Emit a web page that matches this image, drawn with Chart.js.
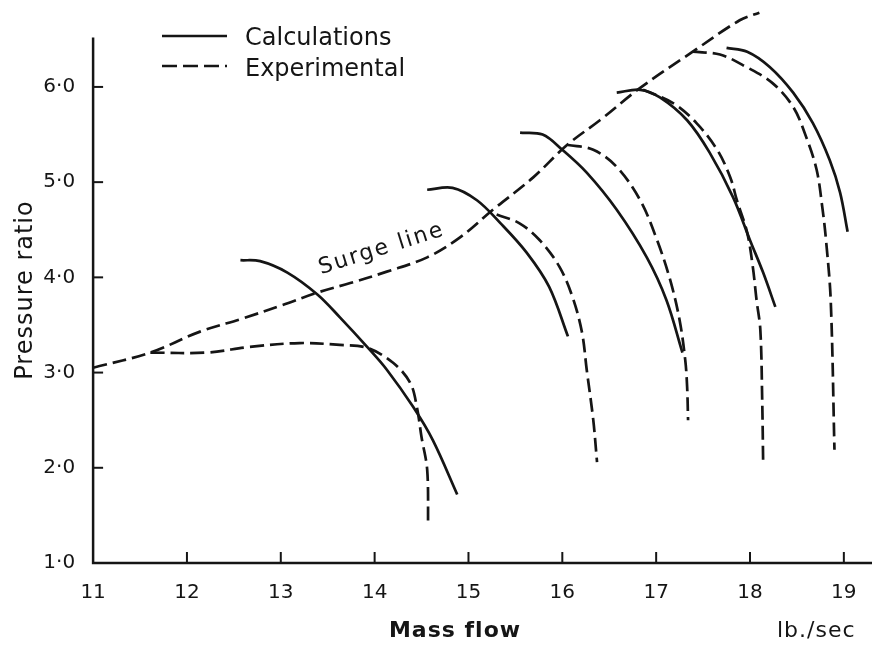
<!DOCTYPE html>
<html>
<head>
<meta charset="utf-8">
<script src="https://cdn.jsdelivr.net/npm/chart.js@4.4.1/dist/chart.umd.min.js"></script>
<style>
  html, body { margin: 0; padding: 0; background: #fff; }
</style>
</head>
<body>
<canvas id="chart" width="872" height="645"></canvas>
<script>
// Axes
const xTicks = [11, 12, 13, 14, 15, 16, 17, 18, 19];
const yTicks = [1, 2, 3, 4, 5, 6];
const yAxisTop = 6.52;

// Surge line (dashed)
const surgeX = [11.00, 11.61, 12.14, 12.60, 13.02, 13.39, 13.74, 14.13, 14.56, 14.91, 15.26, 15.69, 16.05, 16.40, 16.83, 17.39, 17.89, 18.10];
const surgeY = [3.05, 3.21, 3.43, 3.57, 3.71, 3.84, 3.94, 4.06, 4.21, 4.42, 4.71, 5.05, 5.39, 5.65, 5.99, 6.37, 6.70, 6.78];

// Calculations (solid)
const calc1X = [12.57, 12.78, 13.07, 13.39, 13.63, 13.92, 14.13, 14.41, 14.62, 14.88];
const calc1Y = [4.18, 4.17, 4.05, 3.82, 3.58, 3.27, 3.03, 2.64, 2.29, 1.72];
const calc2X = [14.56, 14.83, 15.09, 15.34, 15.62, 15.86, 16.06];
const calc2Y = [4.92, 4.94, 4.81, 4.57, 4.26, 3.90, 3.38];
const calc3X = [15.55, 15.79, 16.00, 16.26, 16.58, 16.90, 17.11, 17.28];
const calc3Y = [5.52, 5.50, 5.34, 5.10, 4.71, 4.21, 3.76, 3.21];
const calc4X = [16.58, 16.83, 17.04, 17.33, 17.57, 17.82, 18.00, 18.14, 18.27];
const calc4Y = [5.94, 5.97, 5.89, 5.65, 5.31, 4.84, 4.39, 4.05, 3.69];
const calc5X = [17.75, 17.97, 18.21, 18.46, 18.67, 18.85, 18.96, 19.04];
const calc5Y = [6.41, 6.37, 6.21, 5.94, 5.62, 5.23, 4.89, 4.48];

// Experimental (dashed)
const exp1X = [11.61, 12.21, 12.67, 13.20, 13.63, 13.92, 14.20, 14.38, 14.45, 14.50, 14.56, 14.57];
const exp1Y = [3.21, 3.21, 3.27, 3.31, 3.29, 3.26, 3.10, 2.89, 2.64, 2.32, 1.98, 1.38];
const exp2X = [15.30, 15.54, 15.76, 15.97, 16.11, 16.21, 16.26, 16.33, 16.37];
const exp2Y = [4.66, 4.57, 4.39, 4.11, 3.79, 3.42, 3.03, 2.50, 2.06];
const exp3X = [16.06, 16.33, 16.58, 16.83, 17.01, 17.15, 17.25, 17.31, 17.33, 17.34];
const exp3Y = [5.39, 5.34, 5.16, 4.81, 4.39, 3.97, 3.55, 3.13, 2.85, 2.50];
const exp4X = [16.86, 17.18, 17.43, 17.65, 17.79, 17.86, 17.97, 18.03, 18.07, 18.11, 18.13, 18.14];
const exp4Y = [5.97, 5.83, 5.62, 5.34, 5.05, 4.81, 4.47, 4.11, 3.76, 3.45, 2.71, 2.06];
const exp5X = [17.39, 17.68, 17.96, 18.24, 18.46, 18.60, 18.71, 18.77, 18.81, 18.86, 18.90];
const exp5Y = [6.37, 6.34, 6.21, 6.04, 5.79, 5.47, 5.13, 4.74, 4.39, 3.76, 2.19];

const ink = '#151515';
const dash = [14, 6];

function line(xs, ys, dashed) {
  return {
    data: xs.map((v, i) => ({ x: v, y: ys[i] })),
    borderColor: ink,
    borderWidth: 2.7,
    borderDash: dashed ? dash : [],
    pointRadius: 0,
    showLine: true,
    fill: false,
    tension: 0.35
  };
}

// axes, inward ticks, legend and labels
const decor = {
  id: 'decor',
  afterDraw(chart) {
    const { ctx, scales: { x, y } } = chart;
    const x0 = x.getPixelForValue(11);
    const y0 = y.getPixelForValue(1);
    ctx.save();
    ctx.strokeStyle = ink;
    ctx.fillStyle = ink;
    ctx.lineWidth = 2.5;
    ctx.beginPath();
    ctx.moveTo(x0, y.getPixelForValue(yAxisTop));
    ctx.lineTo(x0, y0);
    ctx.lineTo(x.right, y0);
    ctx.stroke();

    ctx.lineWidth = 2;
    yTicks.slice(1).forEach(v => {
      const p = y.getPixelForValue(v);
      ctx.beginPath();
      ctx.moveTo(x0, p);
      ctx.lineTo(x0 + 10, p);
      ctx.stroke();
    });
    xTicks.slice(1).forEach(v => {
      const p = x.getPixelForValue(v);
      ctx.beginPath();
      ctx.moveTo(p, y0);
      ctx.lineTo(p, y0 - 11);
      ctx.stroke();
    });

    // legend
    ctx.lineWidth = 2.7;
    ctx.beginPath();
    ctx.moveTo(162, 36);
    ctx.lineTo(227, 36);
    ctx.stroke();
    ctx.setLineDash([15, 6]);
    ctx.beginPath();
    ctx.moveTo(162, 66);
    ctx.lineTo(227, 66);
    ctx.stroke();
    ctx.setLineDash([]);
    ctx.font = '24px "DejaVu Sans"';
    ctx.textAlign = 'left';
    ctx.textBaseline = 'alphabetic';
    ctx.fillText('Calculations', 245, 45);
    ctx.fillText('Experimental', 245, 76);

    // axis titles
    ctx.letterSpacing = '1px';
    ctx.save();
    ctx.translate(32, 290);
    ctx.rotate(-Math.PI / 2);
    ctx.textAlign = 'center';
    ctx.fillText('Pressure ratio', 0, 0);
    ctx.restore();

    ctx.font = 'bold 22px "DejaVu Sans"';
    ctx.textAlign = 'center';
    ctx.fillText('Mass flow', 455, 637);
    ctx.font = '22px "DejaVu Sans"';
    ctx.textAlign = 'left';
    ctx.fillText('lb./sec', 777, 637);

    // surge line label
    ctx.letterSpacing = '2px';
    ctx.save();
    ctx.translate(x.getPixelForValue(14.09), y.getPixelForValue(4.25));
    ctx.rotate(-17.5 * Math.PI / 180);
    ctx.textAlign = 'center';
    ctx.fillText('Surge line', 0, 1);
    ctx.restore();
    ctx.restore();
  }
};

new Chart(document.getElementById('chart'), {
  type: 'scatter',
  data: {
    datasets: [
      line(surgeX, surgeY, true),
      line(calc1X, calc1Y, false),
      line(calc2X, calc2Y, false),
      line(calc3X, calc3Y, false),
      line(calc4X, calc4Y, false),
      line(calc5X, calc5Y, false),
      line(exp1X, exp1Y, true),
      line(exp2X, exp2Y, true),
      line(exp3X, exp3Y, true),
      line(exp4X, exp4Y, true),
      line(exp5X, exp5Y, true)
    ]
  },
  options: {
    responsive: false,
    animation: false,
    events: [],
    layout: { padding: { top: 6, left: 0, right: 0, bottom: 0 } },
    plugins: {
      legend: { display: false },
      tooltip: { enabled: false }
    },
    scales: {
      x: {
        type: 'linear',
        min: 11,
        max: 19.3,
        grid: { display: false },
        border: { display: false },
        afterBuildTicks: s => { s.ticks = xTicks.map(v => ({ value: v })); },
        afterFit: s => { s.height = 82; s.paddingLeft = 0; s.paddingRight = 0; },
        ticks: {
          color: ink,
          font: { family: 'DejaVu Sans', size: 20 },
          padding: 10,
          maxRotation: 0,
          autoSkip: false,
          callback: v => String(v)
        }
      },
      y: {
        type: 'linear',
        min: 1,
        max: 6.85,
        grid: { display: false },
        border: { display: false },
        afterBuildTicks: s => { s.ticks = yTicks.map(v => ({ value: v })); },
        afterFit: s => { s.width = 93.1; s.paddingTop = 0; s.paddingBottom = 0; },
        ticks: {
          color: ink,
          font: { family: 'DejaVu Sans', size: 20 },
          padding: 10,
          autoSkip: false,
          callback: v => v.toFixed(1).replace('.', '·')
        }
      }
    }
  },
  plugins: [decor]
});
</script>
</body>
</html>
